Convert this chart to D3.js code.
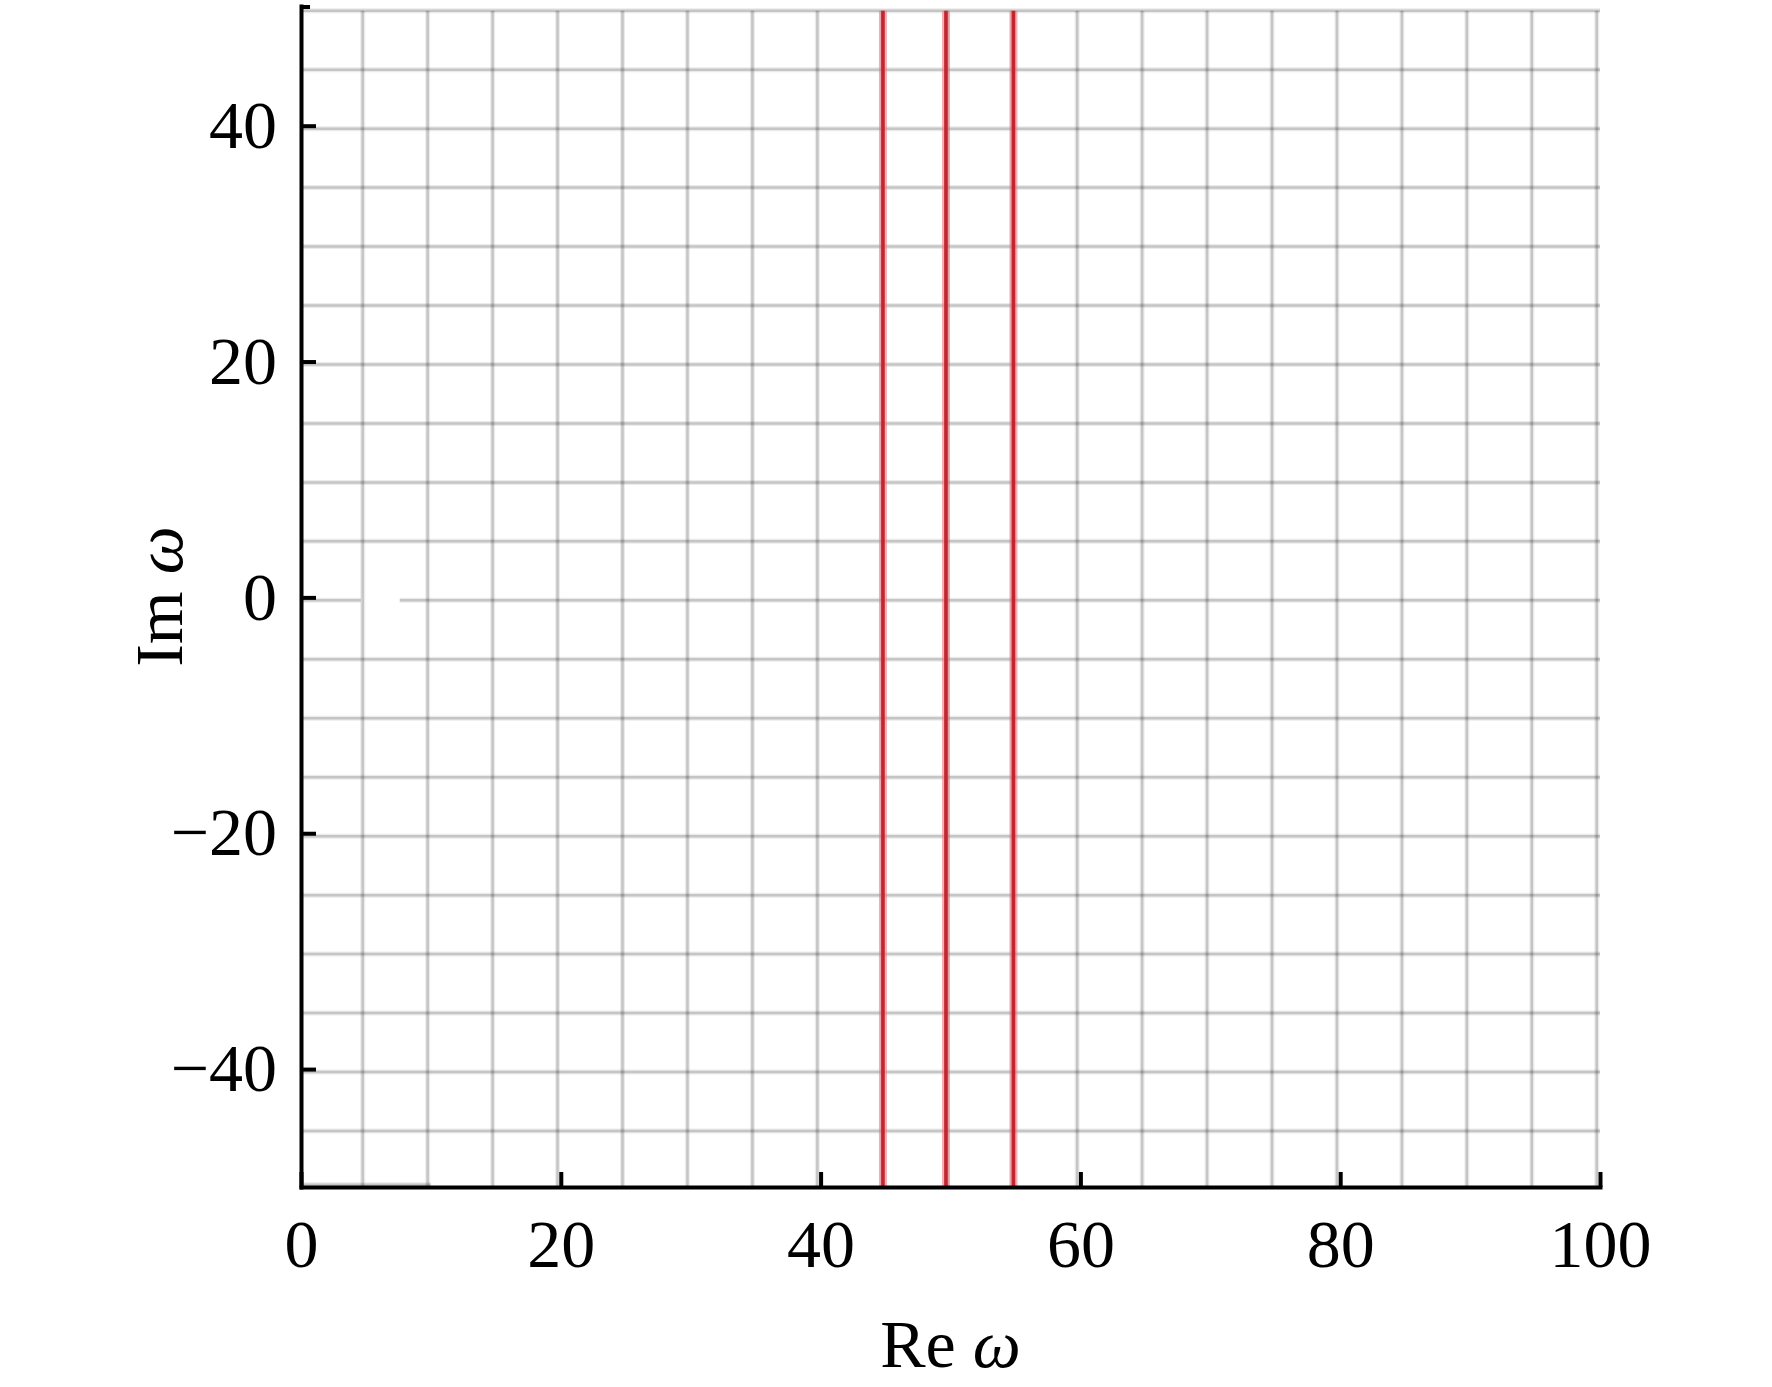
<!DOCTYPE html>
<html>
<head>
<meta charset="utf-8">
<script src="https://cdn.jsdelivr.net/npm/d3@7"></script>
<style>
  html, body { margin: 0; padding: 0; background: #fff; }
  svg { display: block; }
  text { font-family: "Liberation Serif", "Times New Roman", serif; }
</style>
</head>
<body>
<svg id="chart" width="1772" height="1387"></svg>
<script>
// ---- data ----
const xTicks = [0, 20, 40, 60, 80, 100];
const yTicks = [-40, -20, 0, 20, 40];
const gridX = [5, 10, 15, 20, 25, 30, 35, 40, 45, 50, 55, 60, 65, 70, 75, 80, 85, 90, 95, 100];
const gridY = [-45, -40, -35, -30, -25, -20, -15, -10, -5, 5, 10, 15, 20, 25, 30, 35, 40, 45, 50];
const zeroLineSegments = [[0, 4.6], [7.6, 100]];   // Im ω = 0 grid line, with its gap
const bottomStub = [[0, 10]];                        // short visible piece of the Im ω = -50 line
const redLines = [44.8, 49.65, 54.85];              // Re ω of the vertical red lines
const xDomain = [0, 100];
const yDomain = [-50, 50.15];

(function () {
  const svg = d3.select("#chart");
  const mLeft = 301, mRight = 1600, mTop = 6, mBottom = 1187;
  const x = d3.scaleLinear().domain(xDomain).range([mLeft, mRight]);
  const y = d3.scaleLinear().domain(yDomain).range([mBottom, mTop]);
  const gridShiftX = -0.25, gridShiftY = -0.25;
  const gridTop = 49.75;

  const gridG = svg.append("g");
  function gridLine(x1, y1, x2, y2) {
    gridG.append("line").attr("x1", x1).attr("y1", y1).attr("x2", x2).attr("y2", y2)
      .attr("stroke", "#000").attr("stroke-opacity", 0.08).attr("stroke-width", 5);
    gridG.append("line").attr("x1", x1).attr("y1", y1).attr("x2", x2).attr("y2", y2)
      .attr("stroke", "#000").attr("stroke-opacity", 0.16).attr("stroke-width", 2.5);
  }
  gridY.forEach(v => {
    const yy = y(Math.min(v + gridShiftY, gridTop));
    gridLine(x(0), yy, x(100), yy);
  });
  zeroLineSegments.forEach(([a, b]) => gridLine(x(a), y(gridShiftY), x(b), y(gridShiftY)));
  bottomStub.forEach(([a, b]) => gridLine(x(a), y(-49.8), x(b), y(-49.8)));
  gridX.forEach(v => {
    const xx = x(v + gridShiftX);
    gridLine(xx, y(gridTop), xx, y(-50));
  });

  const redG = svg.append("g");
  redLines.forEach(v => {
    redG.append("line").attr("x1", x(v)).attr("x2", x(v)).attr("y1", y(gridTop)).attr("y2", y(-50))
      .attr("stroke", "#ee7b82").attr("stroke-opacity", 0.6).attr("stroke-width", 8);
    redG.append("line").attr("x1", x(v)).attr("x2", x(v)).attr("y1", y(gridTop)).attr("y2", y(-50))
      .attr("stroke", "#c22630").attr("stroke-width", 3.6);
  });

  const fmt = d => d < 0 ? "\u2212" + Math.abs(d) : String(d);
  const yAxis = d3.axisLeft(y).tickValues(yTicks).tickSize(-15).tickSizeOuter(0).tickPadding(24).tickFormat(fmt);
  const xAxis = d3.axisBottom(x).tickValues(xTicks).tickSize(-15).tickSizeOuter(0).tickPadding(32).tickFormat(fmt);

  const gy = svg.append("g").attr("transform", `translate(${mLeft},0)`).call(yAxis);
  const gx = svg.append("g").attr("transform", `translate(0,${mBottom})`).call(xAxis);
  [gx, gy].forEach(g => {
    g.select(".domain").attr("stroke", "#000").attr("stroke-width", 4).attr("stroke-linecap", "square");
    g.selectAll(".tick line").attr("stroke", "#000").attr("stroke-width", 4);
    g.selectAll(".tick text").attr("fill", "#000").attr("font-size", 68)
      .attr("font-family", "'Liberation Serif', 'Times New Roman', serif");
  });
  svg.append("line").attr("x1", mLeft).attr("x2", mLeft + 9).attr("y1", y(yDomain[1]) + 1).attr("y2", y(yDomain[1]) + 1)
    .attr("stroke", "#000").attr("stroke-width", 4);

  const xt = svg.append("text").attr("x", (mLeft + mRight) / 2).attr("y", 1367)
    .attr("text-anchor", "middle").attr("font-size", 68).attr("fill", "#000");
  xt.append("tspan").text("Re ");
  xt.append("tspan").attr("font-style", "italic").text("\u03C9");

  const yt = svg.append("text").attr("transform", `translate(182,${(mTop + mBottom) / 2}) rotate(-90)`)
    .attr("text-anchor", "middle").attr("font-size", 68).attr("fill", "#000");
  yt.append("tspan").text("Im ");
  yt.append("tspan").attr("font-style", "italic").text("\u03C9");
})();
</script>
</body>
</html>
